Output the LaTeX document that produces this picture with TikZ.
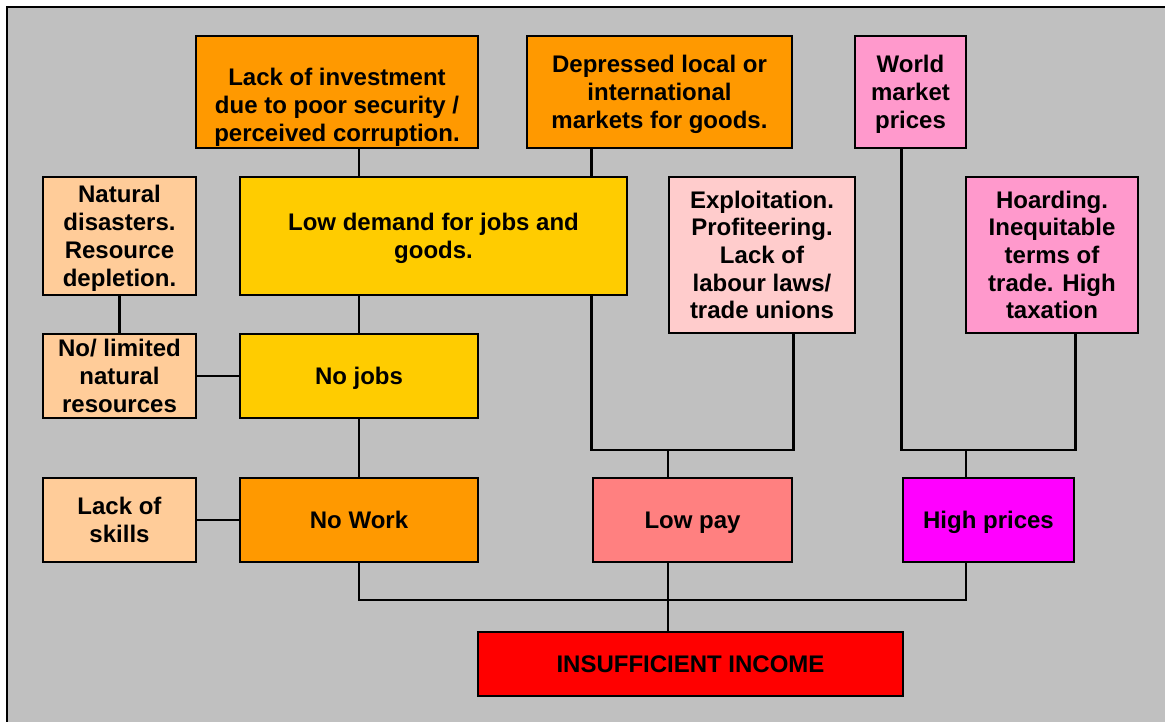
\documentclass[tikz,border=0pt]{standalone}
\usepackage{fontspec}
\setmainfont{Liberation Sans}
\definecolor{bggray}{HTML}{C0C0C0}
\definecolor{cOrange}{HTML}{FF9900}
\definecolor{cYellow}{HTML}{FFCC00}
\definecolor{cPeach}{HTML}{FFCC99}
\definecolor{cLightPink}{HTML}{FFCCCC}
\definecolor{cPink}{HTML}{FF99CC}
\definecolor{cSalmon}{HTML}{FF8080}
\definecolor{cMagenta}{HTML}{FF00FF}
\definecolor{cRed}{HTML}{FF0000}
% centred lines of box text, lowered inside the box without changing its size
\newcommand{\boxlines}[2][-3pt]{\raisebox{#1}[\height][\depth]{\begin{tabular}{@{}c@{}}#2\end{tabular}}}
\begin{document}
\begin{tikzpicture}[x=1pt,y=-1pt,
  box/.style={draw=black, line width=2.8pt, rectangle, inner sep=0pt,
    font=\fontsize{24}{27.7}\selectfont\bfseries},
  wire/.style={draw=black, line width=2.8pt, line join=miter}
]
\useasboundingbox (0,0) rectangle (1165,722);
\clip (0,0) rectangle (1165,722);
\fill[white] (0,0) rectangle (1165,722);
\draw[line width=2.5pt, fill=bggray] (7,7) rectangle (1180,740);

% top row
\node[box, fill=cOrange, minimum width=282pt, minimum height=112pt] (inv) at (337,92)
  {\boxlines[-16pt]{Lack of investment\\due to poor security /\\perceived corruption.}};
\node[box, fill=cOrange, minimum width=265pt, minimum height=112pt] (dep) at (659.5,92)
  {\boxlines{Depressed local or\\international\\markets for goods.}};
\node[box, fill=cPink, minimum width=111pt, minimum height=112pt] (wmp) at (910.5,92)
  {\boxlines{World\\market\\prices}};

% second row
\node[box, fill=cPeach, minimum width=153pt, minimum height=118pt] (nat) at (119.5,236)
  {\boxlines{Natural\\disasters.\\Resource\\depletion.}};
\node[box, fill=cYellow, minimum width=387pt, minimum height=118pt] (dem) at (433.5,236)
  {\boxlines{Low demand for jobs and\\goods.}};
\node[box, fill=cLightPink, minimum width=186pt, minimum height=156pt] (exp) at (762,255)
  {\boxlines{Exploitation.\\Profiteering.\\Lack of\\labour laws/\\trade unions}};
\node[box, fill=cPink, minimum width=172pt, minimum height=156pt] (hoa) at (1052,255)
  {\boxlines{Hoarding.\\Inequitable\\terms of\\trade. High\\taxation}};

% third row
\node[box, fill=cPeach, minimum width=153pt, minimum height=84pt] (lim) at (119.5,376)
  {\boxlines{No/ limited\\natural\\resources}};
\node[box, fill=cYellow, minimum width=238pt, minimum height=84pt] (job) at (359,376)
  {\boxlines{No jobs}};

% fourth row
\node[box, fill=cPeach, minimum width=153pt, minimum height=84pt] (skl) at (119.5,520)
  {\boxlines{Lack of\\skills}};
\node[box, fill=cOrange, minimum width=238pt, minimum height=84pt] (wrk) at (359,520)
  {\boxlines{No Work}};
\node[box, fill=cSalmon, minimum width=199pt, minimum height=84pt] (pay) at (692.5,520)
  {\boxlines{Low pay}};
\node[box, fill=cMagenta, minimum width=171pt, minimum height=84pt] (prc) at (988.5,520)
  {\boxlines{High prices}};

% result
\node[box, fill=cRed, minimum width=425pt, minimum height=64pt] (inc) at (690.5,664)
  {\boxlines{INSUFFICIENT INCOME}};

% junction points
\coordinate (pj) at (668,450);
\coordinate (hj) at (966,450);
\coordinate (bj) at (668,600);

% connectors
\draw[wire] (inv.south -| job.north) -- (dem.north -| job.north);
\draw[wire] (dep.south -| pay.west) -- (dem.north -| pay.west);
\draw[wire] (dem.south -| job.north) -- (job.north);
\draw[wire] (job.south) -- (wrk.north);
\draw[wire] (nat.south) -- (lim.north);
\draw[wire] (lim.east) -- (job.west);
\draw[wire] (skl.east) -- (wrk.west);
\draw[wire] (dem.south -| pay.west) |- (pj) -| (exp.south -| pay.east);
\draw[wire] (pj) -- (pay.north -| pj);
\draw[wire] (wmp.south -| prc.west) |- (hj) -| (hoa.south -| prc.east);
\draw[wire] (hj) -- (prc.north -| hj);
\draw[wire] (wrk.south) |- (bj) -| (prc.south -| hj);
\draw[wire] (pay.south -| bj) -- (inc.north -| bj);
\end{tikzpicture}
\end{document}
